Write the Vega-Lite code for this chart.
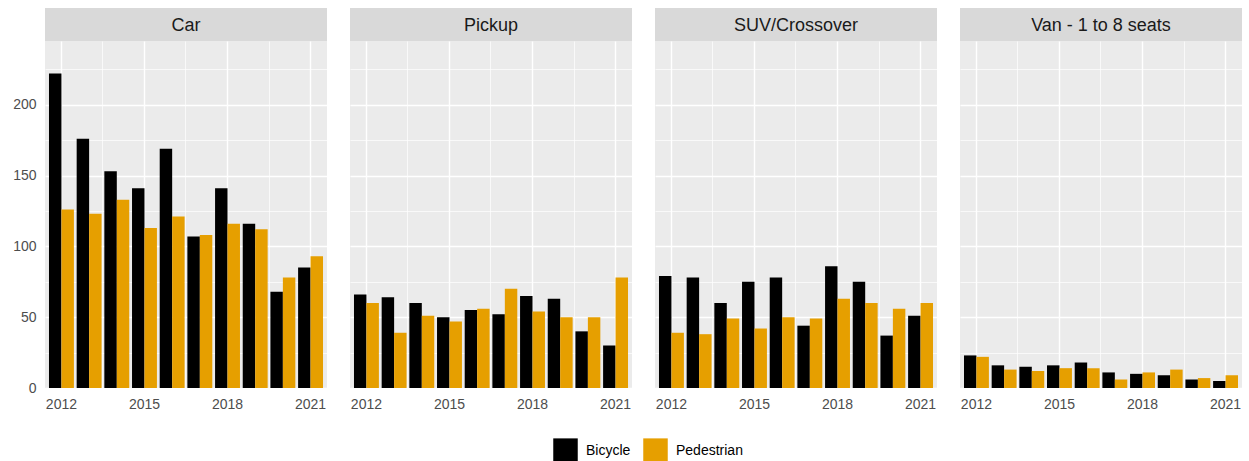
{
  "$schema": "https://vega.github.io/schema/vega-lite/v6.json",
  "padding": {"left": 12, "top": 8, "right": 0, "bottom": 0},
  "background": "#FFFFFF",
  "datasets": {
    "strips": [{"type": "Car"}, {"type": "Pickup"}, {"type": "SUV/Crossover"}, {"type": "Van - 1 to 8 seats"}],
    "d": [
      {"type": "Car", "year": 2012, "mode": "Bicycle", "count": 222},
      {"type": "Car", "year": 2013, "mode": "Bicycle", "count": 176},
      {"type": "Car", "year": 2014, "mode": "Bicycle", "count": 153},
      {"type": "Car", "year": 2015, "mode": "Bicycle", "count": 141},
      {"type": "Car", "year": 2016, "mode": "Bicycle", "count": 169},
      {"type": "Car", "year": 2017, "mode": "Bicycle", "count": 107},
      {"type": "Car", "year": 2018, "mode": "Bicycle", "count": 141},
      {"type": "Car", "year": 2019, "mode": "Bicycle", "count": 116},
      {"type": "Car", "year": 2020, "mode": "Bicycle", "count": 68},
      {"type": "Car", "year": 2021, "mode": "Bicycle", "count": 85},
      {"type": "Car", "year": 2012, "mode": "Pedestrian", "count": 126},
      {"type": "Car", "year": 2013, "mode": "Pedestrian", "count": 123},
      {"type": "Car", "year": 2014, "mode": "Pedestrian", "count": 133},
      {"type": "Car", "year": 2015, "mode": "Pedestrian", "count": 113},
      {"type": "Car", "year": 2016, "mode": "Pedestrian", "count": 121},
      {"type": "Car", "year": 2017, "mode": "Pedestrian", "count": 108},
      {"type": "Car", "year": 2018, "mode": "Pedestrian", "count": 116},
      {"type": "Car", "year": 2019, "mode": "Pedestrian", "count": 112},
      {"type": "Car", "year": 2020, "mode": "Pedestrian", "count": 78},
      {"type": "Car", "year": 2021, "mode": "Pedestrian", "count": 93},
      {"type": "Pickup", "year": 2012, "mode": "Bicycle", "count": 66},
      {"type": "Pickup", "year": 2013, "mode": "Bicycle", "count": 64},
      {"type": "Pickup", "year": 2014, "mode": "Bicycle", "count": 60},
      {"type": "Pickup", "year": 2015, "mode": "Bicycle", "count": 50},
      {"type": "Pickup", "year": 2016, "mode": "Bicycle", "count": 55},
      {"type": "Pickup", "year": 2017, "mode": "Bicycle", "count": 52},
      {"type": "Pickup", "year": 2018, "mode": "Bicycle", "count": 65},
      {"type": "Pickup", "year": 2019, "mode": "Bicycle", "count": 63},
      {"type": "Pickup", "year": 2020, "mode": "Bicycle", "count": 40},
      {"type": "Pickup", "year": 2021, "mode": "Bicycle", "count": 30},
      {"type": "Pickup", "year": 2012, "mode": "Pedestrian", "count": 60},
      {"type": "Pickup", "year": 2013, "mode": "Pedestrian", "count": 39},
      {"type": "Pickup", "year": 2014, "mode": "Pedestrian", "count": 51},
      {"type": "Pickup", "year": 2015, "mode": "Pedestrian", "count": 47},
      {"type": "Pickup", "year": 2016, "mode": "Pedestrian", "count": 56},
      {"type": "Pickup", "year": 2017, "mode": "Pedestrian", "count": 70},
      {"type": "Pickup", "year": 2018, "mode": "Pedestrian", "count": 54},
      {"type": "Pickup", "year": 2019, "mode": "Pedestrian", "count": 50},
      {"type": "Pickup", "year": 2020, "mode": "Pedestrian", "count": 50},
      {"type": "Pickup", "year": 2021, "mode": "Pedestrian", "count": 78},
      {"type": "SUV/Crossover", "year": 2012, "mode": "Bicycle", "count": 79},
      {"type": "SUV/Crossover", "year": 2013, "mode": "Bicycle", "count": 78},
      {"type": "SUV/Crossover", "year": 2014, "mode": "Bicycle", "count": 60},
      {"type": "SUV/Crossover", "year": 2015, "mode": "Bicycle", "count": 75},
      {"type": "SUV/Crossover", "year": 2016, "mode": "Bicycle", "count": 78},
      {"type": "SUV/Crossover", "year": 2017, "mode": "Bicycle", "count": 44},
      {"type": "SUV/Crossover", "year": 2018, "mode": "Bicycle", "count": 86},
      {"type": "SUV/Crossover", "year": 2019, "mode": "Bicycle", "count": 75},
      {"type": "SUV/Crossover", "year": 2020, "mode": "Bicycle", "count": 37},
      {"type": "SUV/Crossover", "year": 2021, "mode": "Bicycle", "count": 51},
      {"type": "SUV/Crossover", "year": 2012, "mode": "Pedestrian", "count": 39},
      {"type": "SUV/Crossover", "year": 2013, "mode": "Pedestrian", "count": 38},
      {"type": "SUV/Crossover", "year": 2014, "mode": "Pedestrian", "count": 49},
      {"type": "SUV/Crossover", "year": 2015, "mode": "Pedestrian", "count": 42},
      {"type": "SUV/Crossover", "year": 2016, "mode": "Pedestrian", "count": 50},
      {"type": "SUV/Crossover", "year": 2017, "mode": "Pedestrian", "count": 49},
      {"type": "SUV/Crossover", "year": 2018, "mode": "Pedestrian", "count": 63},
      {"type": "SUV/Crossover", "year": 2019, "mode": "Pedestrian", "count": 60},
      {"type": "SUV/Crossover", "year": 2020, "mode": "Pedestrian", "count": 56},
      {"type": "SUV/Crossover", "year": 2021, "mode": "Pedestrian", "count": 60},
      {"type": "Van - 1 to 8 seats", "year": 2012, "mode": "Bicycle", "count": 23},
      {"type": "Van - 1 to 8 seats", "year": 2013, "mode": "Bicycle", "count": 16},
      {"type": "Van - 1 to 8 seats", "year": 2014, "mode": "Bicycle", "count": 15},
      {"type": "Van - 1 to 8 seats", "year": 2015, "mode": "Bicycle", "count": 16},
      {"type": "Van - 1 to 8 seats", "year": 2016, "mode": "Bicycle", "count": 18},
      {"type": "Van - 1 to 8 seats", "year": 2017, "mode": "Bicycle", "count": 11},
      {"type": "Van - 1 to 8 seats", "year": 2018, "mode": "Bicycle", "count": 10},
      {"type": "Van - 1 to 8 seats", "year": 2019, "mode": "Bicycle", "count": 9},
      {"type": "Van - 1 to 8 seats", "year": 2020, "mode": "Bicycle", "count": 6},
      {"type": "Van - 1 to 8 seats", "year": 2021, "mode": "Bicycle", "count": 5},
      {"type": "Van - 1 to 8 seats", "year": 2012, "mode": "Pedestrian", "count": 22},
      {"type": "Van - 1 to 8 seats", "year": 2013, "mode": "Pedestrian", "count": 13},
      {"type": "Van - 1 to 8 seats", "year": 2014, "mode": "Pedestrian", "count": 12},
      {"type": "Van - 1 to 8 seats", "year": 2015, "mode": "Pedestrian", "count": 14},
      {"type": "Van - 1 to 8 seats", "year": 2016, "mode": "Pedestrian", "count": 14},
      {"type": "Van - 1 to 8 seats", "year": 2017, "mode": "Pedestrian", "count": 6},
      {"type": "Van - 1 to 8 seats", "year": 2018, "mode": "Pedestrian", "count": 11},
      {"type": "Van - 1 to 8 seats", "year": 2019, "mode": "Pedestrian", "count": 13},
      {"type": "Van - 1 to 8 seats", "year": 2020, "mode": "Pedestrian", "count": 7},
      {"type": "Van - 1 to 8 seats", "year": 2021, "mode": "Pedestrian", "count": 9}
    ]
  },
  "spacing": 23,
  "hconcat": [
    {
      "spacing": 0, "bounds": "flush",
      "vconcat": [
        {"data": {"name": "strips"}, "transform": [{"filter": "datum.type === 'Car'"}], "width": 282, "height": 33,
         "view": {"fill": "#D9D9D9", "stroke": null},
         "mark": {"type": "text", "fontSize": 18, "color": "#1A1A1A", "dy": 1}, "encoding": {"text": {"field": "type"}}},
        {"data": {"name": "d"}, "transform": [{"filter": "datum.type === 'Car'"}], "width": 282, "height": 347,
         "layer": [
           {"mark": {"type": "bar"}, "encoding": {
             "x": {"field": "year", "type": "ordinal", "scale": {"paddingInner": 0.1, "paddingOuter": 0.144},
                   "axis": {"values": [2012, 2015, 2018, 2021], "bandPosition": 0.5, "labelAngle": 0, "grid": true, "gridWidth": 1.4, "labelPadding": 9}},
             "xOffset": {"field": "mode", "sort": ["Bicycle", "Pedestrian"]},
             "y": {"field": "count", "type": "quantitative", "scale": {"domain": [0, 245], "nice": false},
                   "axis": {"values": [0, 25, 50, 75, 100, 125, 150, 175, 200, 225], "labelExpr": "datum.value % 50 === 0 ? datum.label : ''",
                            "gridWidth": {"condition": {"test": "datum.value % 50 === 0", "value": 1.4}, "value": 0.7}, "labelPadding": 9}},
             "color": {"field": "mode", "type": "nominal", "scale": {"domain": ["Bicycle", "Pedestrian"], "range": ["#000000", "#E69F00"]},
                       "legend": {"orient": "none", "legendX": 508, "legendY": 430, "direction": "horizontal", "title": null, "symbolType": "square", "symbolSize": 600, "symbolStrokeWidth": 0, "labelFontSize": 14, "labelColor": "#000000", "columnPadding": 12, "labelOffset": 8}}
           }},
           {"mark": {"type": "bar", "opacity": 0}, "encoding": {
             "x": {"field": "year", "type": "ordinal", "axis": {"orient": "bottom", "values": [2014, 2017, 2020], "bandPosition": -0.0556, "labels": false, "grid": true, "gridWidth": 0.7}}
           }}
         ],
         "resolve": {"axis": {"x": "independent"}}
        }
      ]
    },
    {
      "spacing": 0, "bounds": "flush",
      "vconcat": [
        {"data": {"name": "strips"}, "transform": [{"filter": "datum.type === 'Pickup'"}], "width": 282, "height": 33,
         "view": {"fill": "#D9D9D9", "stroke": null},
         "mark": {"type": "text", "fontSize": 18, "color": "#1A1A1A", "dy": 1}, "encoding": {"text": {"field": "type"}}},
        {"data": {"name": "d"}, "transform": [{"filter": "datum.type === 'Pickup'"}], "width": 282, "height": 347,
         "layer": [
           {"mark": {"type": "bar"}, "encoding": {
             "x": {"field": "year", "type": "ordinal", "scale": {"paddingInner": 0.1, "paddingOuter": 0.144},
                   "axis": {"values": [2012, 2015, 2018, 2021], "bandPosition": 0.5, "labelAngle": 0, "grid": true, "gridWidth": 1.4, "labelPadding": 9}},
             "xOffset": {"field": "mode", "sort": ["Bicycle", "Pedestrian"]},
             "y": {"field": "count", "type": "quantitative", "scale": {"domain": [0, 245], "nice": false},
                   "axis": {"values": [0, 25, 50, 75, 100, 125, 150, 175, 200, 225], "labels": false, "minExtent": 0, "maxExtent": 0,
                            "gridWidth": {"condition": {"test": "datum.value % 50 === 0", "value": 1.4}, "value": 0.7}}},
             "color": {"field": "mode", "type": "nominal", "scale": {"domain": ["Bicycle", "Pedestrian"], "range": ["#000000", "#E69F00"]},
                       "legend": {"orient": "none", "legendX": 508, "legendY": 430, "direction": "horizontal", "title": null, "symbolType": "square", "symbolSize": 600, "symbolStrokeWidth": 0, "labelFontSize": 14, "labelColor": "#000000", "columnPadding": 12, "labelOffset": 8}}
           }},
           {"mark": {"type": "bar", "opacity": 0}, "encoding": {
             "x": {"field": "year", "type": "ordinal", "axis": {"orient": "bottom", "values": [2014, 2017, 2020], "bandPosition": -0.0556, "labels": false, "grid": true, "gridWidth": 0.7}}
           }}
         ],
         "resolve": {"axis": {"x": "independent"}}
        }
      ]
    },
    {
      "spacing": 0, "bounds": "flush",
      "vconcat": [
        {"data": {"name": "strips"}, "transform": [{"filter": "datum.type === 'SUV/Crossover'"}], "width": 282, "height": 33,
         "view": {"fill": "#D9D9D9", "stroke": null},
         "mark": {"type": "text", "fontSize": 18, "color": "#1A1A1A", "dy": 1}, "encoding": {"text": {"field": "type"}}},
        {"data": {"name": "d"}, "transform": [{"filter": "datum.type === 'SUV/Crossover'"}], "width": 282, "height": 347,
         "layer": [
           {"mark": {"type": "bar"}, "encoding": {
             "x": {"field": "year", "type": "ordinal", "scale": {"paddingInner": 0.1, "paddingOuter": 0.144},
                   "axis": {"values": [2012, 2015, 2018, 2021], "bandPosition": 0.5, "labelAngle": 0, "grid": true, "gridWidth": 1.4, "labelPadding": 9}},
             "xOffset": {"field": "mode", "sort": ["Bicycle", "Pedestrian"]},
             "y": {"field": "count", "type": "quantitative", "scale": {"domain": [0, 245], "nice": false},
                   "axis": {"values": [0, 25, 50, 75, 100, 125, 150, 175, 200, 225], "labels": false, "minExtent": 0, "maxExtent": 0,
                            "gridWidth": {"condition": {"test": "datum.value % 50 === 0", "value": 1.4}, "value": 0.7}}},
             "color": {"field": "mode", "type": "nominal", "scale": {"domain": ["Bicycle", "Pedestrian"], "range": ["#000000", "#E69F00"]},
                       "legend": {"orient": "none", "legendX": 508, "legendY": 430, "direction": "horizontal", "title": null, "symbolType": "square", "symbolSize": 600, "symbolStrokeWidth": 0, "labelFontSize": 14, "labelColor": "#000000", "columnPadding": 12, "labelOffset": 8}}
           }},
           {"mark": {"type": "bar", "opacity": 0}, "encoding": {
             "x": {"field": "year", "type": "ordinal", "axis": {"orient": "bottom", "values": [2014, 2017, 2020], "bandPosition": -0.0556, "labels": false, "grid": true, "gridWidth": 0.7}}
           }}
         ],
         "resolve": {"axis": {"x": "independent"}}
        }
      ]
    },
    {
      "spacing": 0, "bounds": "flush",
      "vconcat": [
        {"data": {"name": "strips"}, "transform": [{"filter": "datum.type === 'Van - 1 to 8 seats'"}], "width": 282, "height": 33,
         "view": {"fill": "#D9D9D9", "stroke": null},
         "mark": {"type": "text", "fontSize": 18, "color": "#1A1A1A", "dy": 1}, "encoding": {"text": {"field": "type"}}},
        {"data": {"name": "d"}, "transform": [{"filter": "datum.type === 'Van - 1 to 8 seats'"}], "width": 282, "height": 347,
         "layer": [
           {"mark": {"type": "bar"}, "encoding": {
             "x": {"field": "year", "type": "ordinal", "scale": {"paddingInner": 0.1, "paddingOuter": 0.144},
                   "axis": {"values": [2012, 2015, 2018, 2021], "bandPosition": 0.5, "labelAngle": 0, "grid": true, "gridWidth": 1.4, "labelPadding": 9}},
             "xOffset": {"field": "mode", "sort": ["Bicycle", "Pedestrian"]},
             "y": {"field": "count", "type": "quantitative", "scale": {"domain": [0, 245], "nice": false},
                   "axis": {"values": [0, 25, 50, 75, 100, 125, 150, 175, 200, 225], "labels": false, "minExtent": 0, "maxExtent": 0,
                            "gridWidth": {"condition": {"test": "datum.value % 50 === 0", "value": 1.4}, "value": 0.7}}},
             "color": {"field": "mode", "type": "nominal", "scale": {"domain": ["Bicycle", "Pedestrian"], "range": ["#000000", "#E69F00"]},
                       "legend": {"orient": "none", "legendX": 508, "legendY": 430, "direction": "horizontal", "title": null, "symbolType": "square", "symbolSize": 600, "symbolStrokeWidth": 0, "labelFontSize": 14, "labelColor": "#000000", "columnPadding": 12, "labelOffset": 8}}
           }},
           {"mark": {"type": "bar", "opacity": 0}, "encoding": {
             "x": {"field": "year", "type": "ordinal", "axis": {"orient": "bottom", "values": [2014, 2017, 2020], "bandPosition": -0.0556, "labels": false, "grid": true, "gridWidth": 0.7}}
           }}
         ],
         "resolve": {"axis": {"x": "independent"}}
        }
      ]
    }
  ],
  "resolve": {"scale": {"color": "shared", "x": "independent", "y": "independent", "xOffset": "independent"}, "legend": {"color": "shared"}},
  "config": {
    "font": "Liberation Sans",
    "view": {"fill": "#EBEBEB", "stroke": null},
    "axis": {"labelColor": "#4D4D4D", "labelFontSize": 14, "ticks": false, "domain": false, "gridColor": "#FFFFFF", "gridOpacity": 1, "title": null},
    "legend": {"labelFont": "Liberation Sans"}
  }
}
